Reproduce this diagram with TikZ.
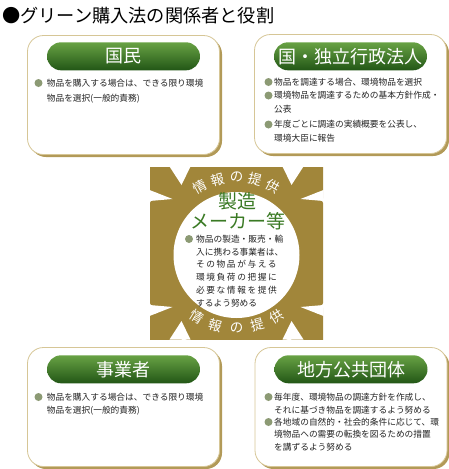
\documentclass[tikz,border=0pt]{standalone}
\usepackage{fontspec}
\setmainfont{Noto Sans CJK JP}
\usetikzlibrary{positioning}
\usetikzlibrary{shadows}
\definecolor{mgold}{RGB}{161, 134, 58}
\definecolor{mgreen}{RGB}{58, 122, 36}
\definecolor{pilltop}{RGB}{104, 162, 68}
\definecolor{pillmid}{RGB}{58, 122, 36}
\definecolor{pillbot}{RGB}{34, 86, 22}
\definecolor{panelline}{RGB}{214, 198, 150}
\definecolor{panelshade}{RGB}{178, 154, 88}
\definecolor{dotgrey}{RGB}{140, 154, 116}
\definecolor{ink}{RGB}{35, 35, 35}
\tikzset{panel/.style = {draw = panelline, fill = white, line width = 0.8pt,
                         rounded corners = 16pt, minimum width = 192pt, minimum height = 119pt,
                         drop shadow = {shadow xshift = 2.5pt, shadow yshift = -2.5pt,
                                        fill = panelshade, opacity = 1}}}
\tikzset{pill/.style = {rounded corners = 14pt, top color = pilltop, middle color = pillmid,
                        bottom color = pillbot, minimum width = 153pt, minimum height = 28pt,
                        inner sep = 0, text = white, font = \fontsize{18}{18}\selectfont}}
\tikzset{dot/.style = {fill = dotgrey, circle, inner sep = 0, minimum size = 8pt}}
\tikzset{item/.style = {anchor = base west, align = left, inner sep = 0, text = ink,
                        font = \fontsize{8.7}{14}\selectfont}}
\tikzset{ringtext/.style = {text = white, inner sep = 0, font = \fontsize{13.5}{13.5}\selectfont}}
\tikzset{maker/.style = {text = mgreen, inner sep = 0, font = \fontsize{19}{19}\selectfont}}

\begin{document}
\begin{tikzpicture}[x = 1pt, y = 1pt]
    \useasboundingbox (0, 0) rectangle (449, -469);

    \node [anchor = west, inner sep = 0, font = \fontsize{18.2}{18.2}\selectfont] (title) at (2, -16)
        {●グリーン購入法の関係者と役割};

    % the four panels
    \node [panel] (kokumin) at (123.5, -95) {};
    \node [panel] (kuni) at (350.5, -94) {};
    \node [panel] (jigyo) at (123.5, -407) {};
    \node [panel] (chiho) at (351, -407) {};

    \node [pill, below = 7pt of kokumin.north] (kokuminpill) {国民};
    \node [pill, below = 8pt of kuni.north] (kunipill) {国・独立行政法人};
    \node [pill, below = 8pt of jigyo.north] (jigyopill) {事業者};
    \node [pill, below = 8pt of chiho.north] (chihopill) {地方公共団体};

    % anchors sit on the last line of each text
    \node [dot] (kdot) at (38.5, -83) {};
    \node [item, font = \fontsize{8.7}{15.5}\selectfont] (ktext) at (46.7, -101.8)
        {物品を購入する場合は、できる限り環境\\物品を選択(一般的責務)};

    \node [dot] (ndot1) at (268.5, -82) {};
    \node [item] (ntext1) at (274, -85.3) {物品を調達する場合、環境物品を選択};
    \node [dot] (ndot2) at (268.5, -95.5) {};
    \node [item, font = \fontsize{8.7}{13.5}\selectfont] (ntext2) at (274, -112.3)
        {環境物品を調達するための基本方針作成・\\公表};
    \node [dot] (ndot3) at (268.5, -124.5) {};
    \node [item, font = \fontsize{8.7}{13.5}\selectfont] (ntext3) at (274, -141.3)
        {年度ごとに調達の実績概要を公表し、\\環境大臣に報告};

    \node [dot] (jdot) at (38.5, -397) {};
    \node [item, font = \fontsize{8.7}{13.3}\selectfont] (jtext) at (46.7, -413.6)
        {物品を購入する場合は、できる限り環境\\物品を選択(一般的責務)};

    \node [dot] (cdot1) at (268.5, -397) {};
    \node [item, font = \fontsize{8.7}{13}\selectfont] (ctext1) at (274, -413.3)
        {毎年度、環境物品の調達方針を作成し、\\それに基づき物品を調達するよう努める};
    \node [dot] (cdot2) at (268.5, -422) {};
    \node [item, font = \fontsize{8.7}{12.5}\selectfont] (ctext2) at (274, -450.3)
        {各地域の自然的・社会的条件に応じて、環\\境物品への需要の転換を図るための措置\\を講ずるよう努める};

    % ring with arrows to the panels
    \coordinate (hub) at (236.5, -253);
    \begin{scope}
        \clip (150, -167) rectangle (323, -339);
        \fill [mgold] (hub) circle (100);
        \foreach \a in {45, 135, 225, 315}
            \fill [mgold, shift = {(hub)}, rotate = \a]
                (0, -14) -- (100, -14) -- (100, -60) -- (180, 0) -- (100, 60) -- (100, 14) -- (0, 14) -- cycle;
    \end{scope}
    \foreach \sx/\sy in {1/1, -1/1, 1/-1, -1/-1}
        \fill [white, shift = {(hub)}, xscale = \sx, yscale = \sy]
            (-67, 86.5) -- (-46, 86.5) -- (-55, 68) -- cycle
            (-87, 63) -- (-87, 52) -- (-64, 54) -- cycle;
    \fill [white] (236.5, -255) circle (63);

    \foreach \ch/\ang [count = \i] in {情/119, 報/104.5, の/90, 提/75.5, 供/61}
        \node [ringtext, rotate = \ang - 90] (upper\i) at ([shift = {(\ang:76)}] hub) {\ch};
    \foreach \ch/\ang [count = \i] in {情/238, 報/254, の/270, 提/286, 供/302}
        \node [ringtext, rotate = \ang + 90] (lower\i) at ([shift = {(\ang:75)}] hub) {\ch};

    \node [maker] (seizo) at (237, -201) {製造};
    \node [maker] (maker) at (237.5, -221.5) {メーカー等};

    \node [dot] (mdot) at (189, -239) {};
    \node [item, font = \fontsize{8.7}{12.8}\selectfont] (mtext) at (196, -306.3)
        {物品の製造・販売・輸\\入に携わる事業者は、\\{\addfontfeature{LetterSpace = 18}その物品が与える}\\
         {\addfontfeature{LetterSpace = 18}環境負荷の把握に}\\{\addfontfeature{LetterSpace = 18}必要な情報を提供}\\
         するよう努める};
\end{tikzpicture}
\end{document}
